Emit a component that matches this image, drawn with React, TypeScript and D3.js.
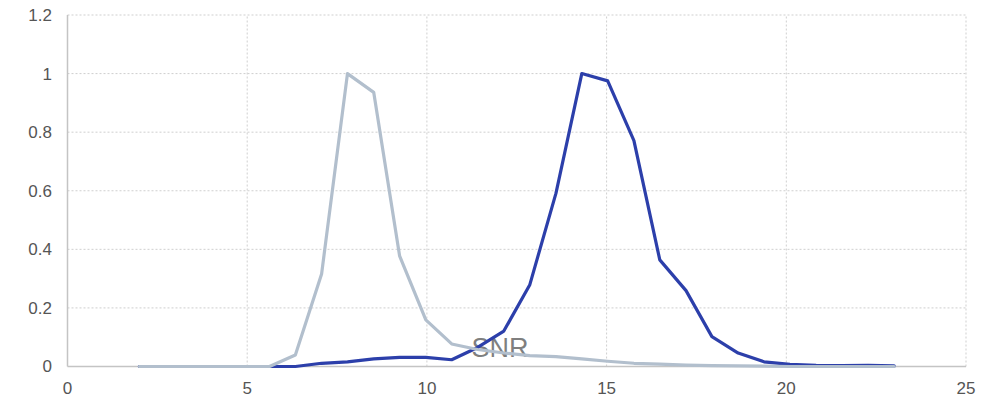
import React from "react";
import * as d3 from "d3";

const snrX = [2, 2.72, 3.45, 4.17, 4.9, 5.62, 6.34, 7.07, 7.79, 8.52, 9.24, 9.97, 10.69, 11.41, 12.14, 12.86, 13.59, 14.31, 15.03, 15.76, 16.48, 17.21, 17.93, 18.66, 19.38, 20.1, 20.83, 21.55, 22.28, 23];
const seriesGray = [0, 0, 0, 0, 0, 0, 0.039, 0.316, 1.0, 0.936, 0.378, 0.159, 0.077, 0.058, 0.046, 0.037, 0.034, 0.026, 0.018, 0.011, 0.008, 0.005, 0.003, 0.002, 0.001, 0, 0, 0, 0, 0];
const seriesBlue = [0, 0, 0, 0, 0, 0, 0, 0.011, 0.016, 0.026, 0.031, 0.031, 0.023, 0.065, 0.121, 0.278, 0.591, 1.0, 0.975, 0.771, 0.364, 0.259, 0.102, 0.046, 0.016, 0.007, 0.004, 0.003, 0.004, 0.002];
const xTicks = [0, 5, 10, 15, 20, 25];
const yTicks = [0, 0.2, 0.4, 0.6, 0.8, 1, 1.2];
const axisTitle = "SNR";

const W = 1000;
const H = 398;
const FONT = "'Liberation Sans', Arial, Helvetica, sans-serif";

export default function App() {
  const x = d3.scaleLinear().domain([0, 25]).range([67.5, 966]);
  const y = d3.scaleLinear().domain([0, 1.2]).range([366.5, 15]);

  const line = d3
    .line<number>()
    .x((_, i) => x(snrX[i]))
    .y((d) => y(d));

  return (
    <svg
      width={W}
      height={H}
      style={{ position: "absolute", left: 0, top: 0, background: "#fff" }}
    >
      {yTicks.slice(1).map((t) => (
        <line
          key={"gy" + t}
          x1={x(0)}
          x2={x(25)}
          y1={y(t)}
          y2={y(t)}
          stroke="#cfcfcf"
          strokeWidth={1}
          strokeDasharray="2,2"
        />
      ))}
      {xTicks.slice(1).map((t) => (
        <line
          key={"gx" + t}
          x1={x(t)}
          x2={x(t)}
          y1={y(0)}
          y2={y(1.2)}
          stroke="#cfcfcf"
          strokeWidth={1}
          strokeDasharray="2,2"
        />
      ))}
      <line x1={x(0)} x2={x(0)} y1={y(0)} y2={y(1.2)} stroke="#c4c4c4" strokeWidth={1.5} />
      <line x1={x(0)} x2={x(25)} y1={y(0)} y2={y(0)} stroke="#c4c4c4" strokeWidth={1.5} />
      {yTicks.map((t) => (
        <text
          key={"ly" + t}
          x={52}
          y={y(t)}
          dy="0.35em"
          textAnchor="end"
          fontFamily={FONT}
          fontSize={17}
          fill="#555"
        >
          {d3.format("~g")(t)}
        </text>
      ))}
      {xTicks.map((t) => (
        <text
          key={"lx" + t}
          x={x(t)}
          y={394}
          textAnchor="middle"
          fontFamily={FONT}
          fontSize={17}
          fill="#555"
        >
          {t}
        </text>
      ))}
      <text
        x={500}
        y={357}
        textAnchor="middle"
        fontFamily={FONT}
        fontSize={27}
        fill="#7f7f7f"
      >
        {axisTitle}
      </text>
      <path
        d={line(seriesBlue) || ""}
        fill="none"
        stroke="#2c3faa"
        strokeWidth={3.2}
        strokeLinejoin="round"
        strokeLinecap="round"
      />
      <path
        d={line(seriesGray) || ""}
        fill="none"
        stroke="#b2bfcd"
        strokeWidth={3.2}
        strokeLinejoin="round"
        strokeLinecap="round"
      />
    </svg>
  );
}
